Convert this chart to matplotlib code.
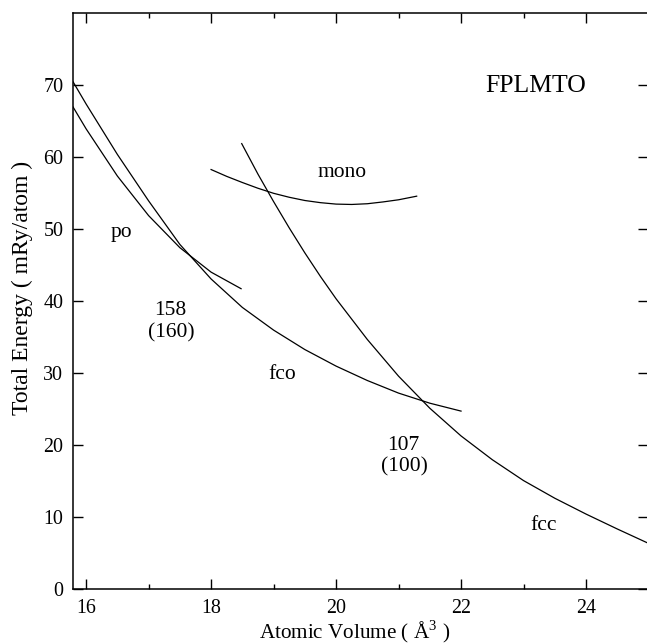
import numpy as np
import matplotlib
matplotlib.use("Agg")
from matplotlib import pyplot as plt
from matplotlib.ticker import MultipleLocator

plt.rcParams['font.family'] = ['Liberation Serif', 'DejaVu Serif']
plt.rcParams['mathtext.fontset'] = 'custom'
plt.rcParams['mathtext.rm'] = 'Liberation Serif'

# curves (volume in A^3, energy in mRy/atom)
po_v = [15.79, 16.0, 16.5, 17.0, 17.5, 18.0, 18.48]
po_e = [67.0, 63.95, 57.4, 51.9, 47.45, 44.05, 41.75]

fco_v = [15.79, 16.0, 16.5, 17.0, 17.5, 18.0, 18.5, 19.0, 19.5, 20.0, 20.5, 21.0, 21.5, 22.0]
fco_e = [70.5, 67.4, 60.4, 53.95, 47.9, 43.1, 39.15, 36.0, 33.3, 31.0, 29.0, 27.25, 25.85, 24.75]

mono_v = [18.0, 18.25, 18.5, 18.75, 19.0, 19.25, 19.5, 19.75, 20.0, 20.25, 20.5, 20.75, 21.0, 21.29]
mono_e = [58.3, 57.35, 56.5, 55.7, 55.0, 54.45, 54.0, 53.7, 53.5, 53.45, 53.55, 53.8, 54.1, 54.6]

fcc_v = [18.49, 18.75, 19.0, 19.25, 19.5, 19.75, 20.0, 20.5, 21.0, 21.5, 22.0, 22.5, 23.0, 23.5, 24.0, 24.5, 25.0]
fcc_e = [61.9, 57.66, 53.85, 50.2, 46.73, 43.45, 40.35, 34.7, 29.6, 25.15, 21.3, 18.0, 15.1, 12.65, 10.45, 8.38, 6.38]

# labels: (text, x, y baseline, size)
labels = [("FPLMTO", 23.2, 69.1, 18.5),
          ("mono", 20.09, 57.2, 15.5),
          ("po", 16.57, 48.9, 15.5),
          ("158", 17.35, 38.1, 15.5),
          ("(160)", 17.37, 35.0, 15.5),
          ("fco", 19.13, 29.2, 15.5),
          ("107", 21.08, 19.35, 15.5),
          ("(100)", 21.09, 16.35, 15.5),
          ("fcc", 23.32, 8.2, 15.5)]

fig = plt.figure(figsize=(6.47, 6.44), dpi=100)
ax = fig.add_axes([73/647, 54.7/644, 575.5/647, 576/644])

lw = 0.9
ax.plot(po_v, po_e, color="black", lw=lw)
ax.plot(fco_v, fco_e, color="black", lw=lw)
ax.plot(mono_v, mono_e, color="black", lw=lw)
ax.plot(fcc_v, fcc_e, color="black", lw=lw)

for txt, x, y, fs in labels:
    ax.text(x, y, txt, ha="center", va="baseline", fontsize=fs)

ax.set_xlim(15.79, 25.0)
ax.set_ylim(0, 80)
ax.xaxis.set_major_locator(MultipleLocator(2))
ax.xaxis.set_minor_locator(MultipleLocator(1))
ax.set_yticks(np.arange(0, 80, 10))
ax.tick_params(which="both", direction="in", top=True, right=True, labelsize=14.4, width=1.0)
ax.tick_params(axis="x", which="major", length=7.2, pad=7.3)
ax.tick_params(axis="x", which="minor", length=3.8)
ax.tick_params(axis="y", which="major", length=7, pad=7)
for s in ax.spines.values():
    s.set_linewidth(1.1)

ax.set_xlabel(r"Atomic Volume ( Å$^{3}$ )", fontsize=15.2)
ax.set_ylabel("Total Energy ( mRy/atom )", fontsize=17)
ax.xaxis.set_label_coords(0.49, -0.05)
ax.yaxis.set_label_coords(-0.07, 0.524)

plt.savefig("out.png", dpi=100)
plt.close()
